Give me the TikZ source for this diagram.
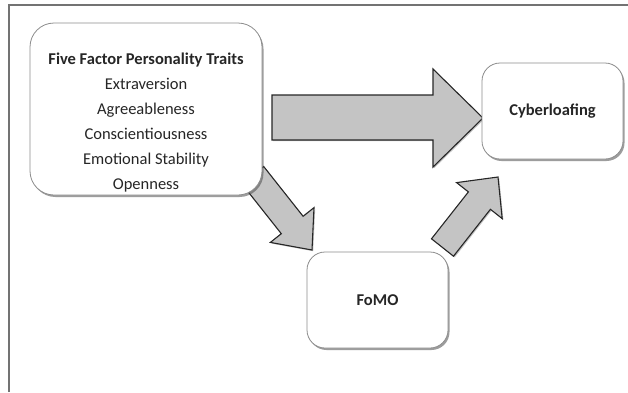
\documentclass[tikz,border=0pt]{standalone}
\usepackage{fontspec}
\setmainfont{Carlito}
\usetikzlibrary{shadows}
\begin{document}
\begin{tikzpicture}[x=1pt,y=-1pt,
  frameline/.style={draw=black!55, line width=1.6pt},
  box/.style={draw=black!45, line width=0.8pt, fill=white, rounded corners=#1,
    drop shadow={shadow xshift=1.5pt, shadow yshift=-2pt, opacity=0.55, fill=black!70}},
  box/.default=18pt,
  blockarrow/.style={draw=black!85, line width=1.1pt, fill=black!23, line join=miter,
    drop shadow={shadow xshift=1.2pt, shadow yshift=-1.2pt, opacity=0.4, fill=black!60}},
  lbl/.style={font=\fontsize{16.5}{25}\selectfont, align=center, text=black!85},
  lblb/.style={font=\bfseries\fontsize{16.5}{25}\selectfont, align=center, text=black!85}
]
\useasboundingbox (0,0) rectangle (628,392);
% frame
\draw[frameline] (9,392) -- (9,5) -- (628,5);

% arrows (drawn first so boxes cover their tails)
\draw[blockarrow] (263.7,166.5) -- (303.1,216.3) -- (314.0,207.6) -- (312,250)
  -- (270.4,242.4) -- (281.3,233.7) -- (241.9,183.9) -- cycle;
\draw[blockarrow] (272,95) -- (433,95) -- (433,69) -- (483,118) -- (433,167)
  -- (433,140) -- (272,140) -- cycle;

% boxes
\node[box=24pt, minimum width=232pt, minimum height=172pt] (traits) at (146,109) {};
\node[lbl] (traitstext) at (146,123)
  {\textbf{Five Factor Personality Traits}\\Extraversion\\Agreeableness\\Conscientiousness\\Emotional Stability\\Openness};
\node[box, minimum width=141pt, minimum height=96pt, lblb] (cyber) at (552.5,111) {Cyberloafing};
\node[box, minimum width=141pt, minimum height=96pt, lblb] (fomo) at (377.5,300) {FoMO};

\draw[blockarrow] (453.5,256.2) -- (490.4,209.3) -- (502.2,218.6) -- (498,177)
  -- (456.6,182.6) -- (468.4,191.9) -- (431.5,238.8) -- cycle;
\end{tikzpicture}
\end{document}
